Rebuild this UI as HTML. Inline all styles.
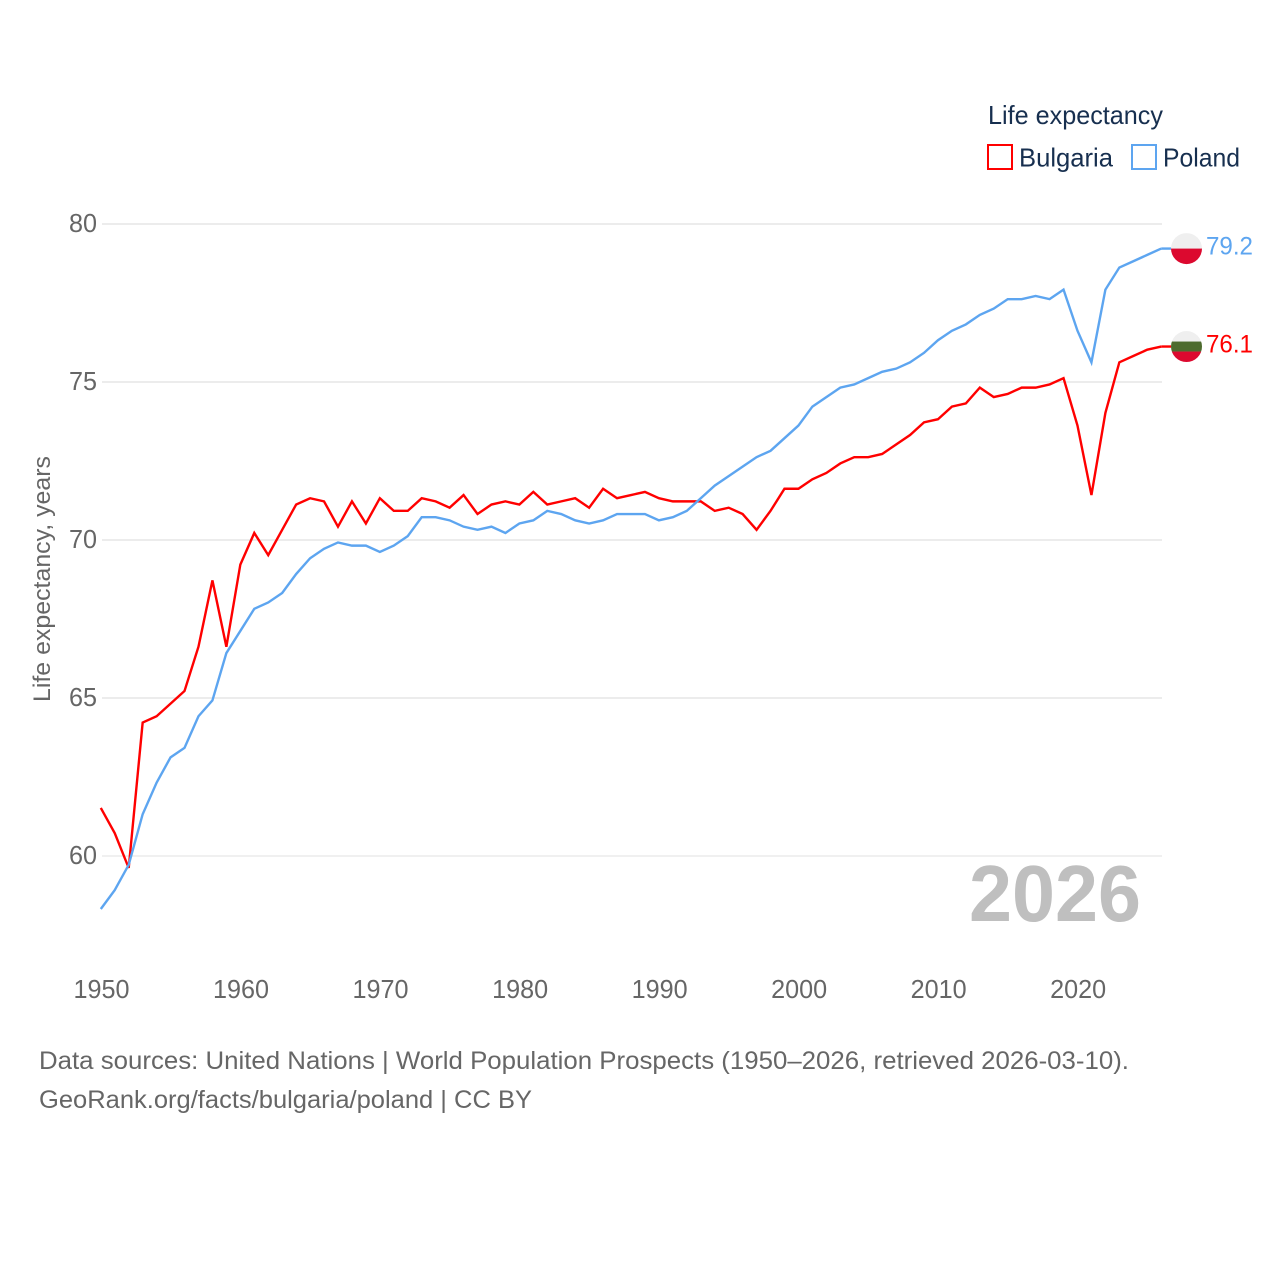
<!DOCTYPE html>
<html lang="en">
<head>
<meta charset="utf-8">
<title>Life expectancy: Bulgaria and Poland</title>
<style>
html,body{margin:0;padding:0;background:#fff;}
svg{display:block;font-family:"Liberation Sans",sans-serif;}
</style>
</head>
<body>
<svg id="chart" width="1280" height="1280" viewBox="0 0 1280 1280" xmlns="http://www.w3.org/2000/svg">
  <rect width="1280" height="1280" fill="#fff"/>
  <g id="grid"></g>
  <g id="yticks"></g>
  <g id="xticks"></g>
  <text transform="translate(50,702) rotate(-90)" font-size="24" fill="#666" textLength="246" lengthAdjust="spacingAndGlyphs">Life expectancy, years</text>
  <text x="969" y="921" font-size="80" font-weight="700" fill="#bfbfbf" textLength="172" lengthAdjust="spacingAndGlyphs">2026</text>
  <g id="series"></g>
  <g>
    <text x="988" y="124" font-size="26" fill="#172f4f" textLength="175" lengthAdjust="spacingAndGlyphs">Life expectancy</text>
    <g>
      <rect x="988" y="145" width="24" height="24" fill="none" stroke="#ff0000" stroke-width="2"/>
      <text x="1019" y="166.5" font-size="26" fill="#172f4f" textLength="94" lengthAdjust="spacingAndGlyphs">Bulgaria</text>
    </g>
    <g>
      <rect x="1132" y="145" width="24" height="24" fill="none" stroke="#5da5f0" stroke-width="2"/>
      <text x="1163" y="166.5" font-size="26" fill="#172f4f" textLength="77" lengthAdjust="spacingAndGlyphs">Poland</text>
    </g>
  </g>
  <g>
    <text x="39" y="1069" font-size="25" fill="#666" textLength="1090" lengthAdjust="spacingAndGlyphs">Data sources: United Nations | World Population Prospects (1950–2026, retrieved 2026-03-10).</text>
    <text x="39" y="1108" font-size="25" fill="#666" textLength="493" lengthAdjust="spacingAndGlyphs">GeoRank.org/facts/bulgaria/poland | CC BY</text>
  </g>
</svg>
<script>
const startYear = 1950;
const yTickValues = [60, 65, 70, 75, 80];
const xTickYears = [1950, 1960, 1970, 1980, 1990, 2000, 2010, 2020];
const bulgariaValues = [
  61.5, 60.7, 59.6, 64.2, 64.4, 64.8, 65.2, 66.6, 68.7, 66.6,
  69.2, 70.2, 69.5, 70.3, 71.1, 71.3, 71.2, 70.4, 71.2, 70.5,
  71.3, 70.9, 70.9, 71.3, 71.2, 71.0, 71.4, 70.8, 71.1, 71.2,
  71.1, 71.5, 71.1, 71.2, 71.3, 71.0, 71.6, 71.3, 71.4, 71.5,
  71.3, 71.2, 71.2, 71.2, 70.9, 71.0, 70.8, 70.3, 70.9, 71.6,
  71.6, 71.9, 72.1, 72.4, 72.6, 72.6, 72.7, 73.0, 73.3, 73.7,
  73.8, 74.2, 74.3, 74.8, 74.5, 74.6, 74.8, 74.8, 74.9, 75.1,
  73.6, 71.4, 74.0, 75.6, 75.8, 76.0, 76.1
];
const polandValues = [
  58.3, 58.9, 59.7, 61.3, 62.3, 63.1, 63.4, 64.4, 64.9, 66.4,
  67.1, 67.8, 68.0, 68.3, 68.9, 69.4, 69.7, 69.9, 69.8, 69.8,
  69.6, 69.8, 70.1, 70.7, 70.7, 70.6, 70.4, 70.3, 70.4, 70.2,
  70.5, 70.6, 70.9, 70.8, 70.6, 70.5, 70.6, 70.8, 70.8, 70.8,
  70.6, 70.7, 70.9, 71.3, 71.7, 72.0, 72.3, 72.6, 72.8, 73.2,
  73.6, 74.2, 74.5, 74.8, 74.9, 75.1, 75.3, 75.4, 75.6, 75.9,
  76.3, 76.6, 76.8, 77.1, 77.3, 77.6, 77.6, 77.7, 77.6, 77.9,
  76.6, 75.6, 77.9, 78.6, 78.8, 79.0, 79.2
];

const NS = 'http://www.w3.org/2000/svg';
const xScale = function (year) { return 100.8 + (year - 1950) * (1161.2 - 100.8) / 76; };
const yScale = function (value) { return 855.3 - (value - 60) * 31.6; };
const axisNudgeX = 0.7;
const axisNudgeY = 0.7;

function make(tag, parent, attrs, text) {
  const el = document.createElementNS(NS, tag);
  Object.keys(attrs).forEach(function (k) { el.setAttribute(k, attrs[k]); });
  if (text !== undefined) el.textContent = text;
  parent.appendChild(el);
  return el;
}

const gridGroup = document.getElementById('grid');
const yTickGroup = document.getElementById('yticks');
yTickValues.forEach(function (v) {
  const gy = yScale(v) + axisNudgeY;
  const line = make('line', gridGroup, { x1: 102, x2: 1162, y1: gy, y2: gy, stroke: '#ececec', 'stroke-width': v === 60 ? 1.5 : 2 });
  
  
  const label = make('text', yTickGroup, { x: 69, y: gy + 8, 'font-size': 26, fill: '#666', textLength: 28, lengthAdjust: 'spacingAndGlyphs' }, String(v));
  
  
});

const xTickGroup = document.getElementById('xticks');
xTickYears.forEach(function (yr) {
  const label = make('text', xTickGroup, { x: xScale(yr) + axisNudgeX - 28, y: 998, 'font-size': 26, fill: '#666', textLength: 56, lengthAdjust: 'spacingAndGlyphs' }, String(yr));
  
  
});

const seriesGroup = document.getElementById('series');
function drawSeries(values, color, key, flagBands) {
  const group = make('g', seriesGroup, {});
  
  

  const pts = values.map(function (v, i) { return xScale(startYear + i).toFixed(2) + ',' + yScale(v).toFixed(2); });
  const lastValue = values[values.length - 1];
  const lastX = xScale(startYear + values.length - 1);
  const lastY = yScale(lastValue);
  const line = make('polyline', group, { points: pts.join(' '), fill: 'none', stroke: color, 'stroke-width': 2.4, 'stroke-linejoin': 'miter' });
  
  

  const connector = make('line', group, { x1: lastX, x2: lastX + 10, y1: lastY, y2: lastY, stroke: color, 'stroke-width': 2.4 });
  
  

  const cx = 1186.5;
  const cy = lastY;
  const r = 15.5;
  const clipId = 'clip-' + key;
  const clip = make('clipPath', group, { id: clipId });
  make('circle', clip, { cx: cx, cy: cy, r: r });
  const flag = make('g', group, { 'clip-path': 'url(#' + clipId + ')' });
  
  
  flagBands.forEach(function (band) {
    make('rect', flag, { x: cx - r, y: cy + band[0], width: 2 * r, height: band[1], fill: band[2] });
  });

  const valueLabel = make('text', group, { x: 1206, y: lastY + 6, 'font-size': 25, fill: color, textLength: 47, lengthAdjust: 'spacingAndGlyphs' }, lastValue.toFixed(1));
  
  
}

drawSeries(bulgariaValues, '#ff0000', 'bulgaria', [[-15.5, 10.5, '#efefef'], [-5, 10, '#4d6b2e'], [5, 11, '#dc092f']]);
drawSeries(polandValues, '#5da5f0', 'poland', [[-15.5, 15.5, '#efefef'], [0, 16, '#dc092f']]);
</script>
</body>
</html>
